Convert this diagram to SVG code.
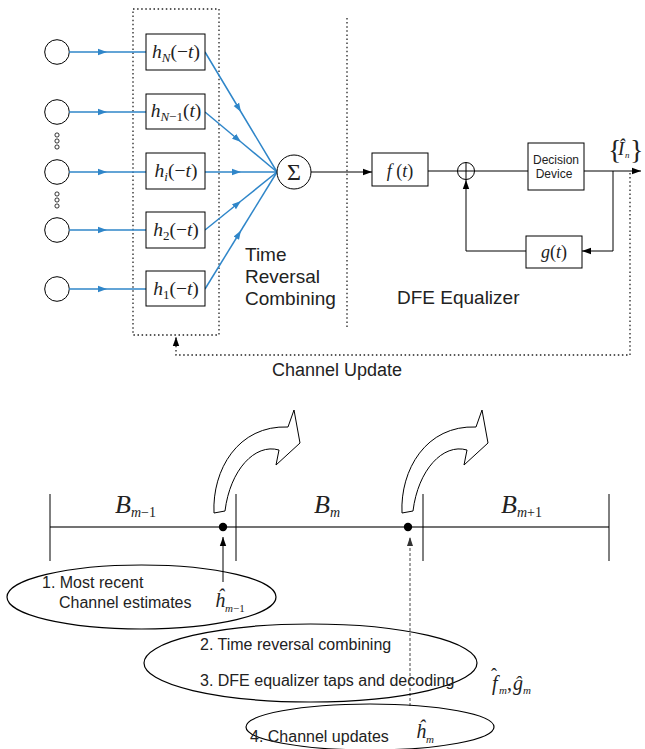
<svg xmlns="http://www.w3.org/2000/svg" width="645" height="749" viewBox="0 0 645 749">
<defs>
<marker id="ab" markerUnits="userSpaceOnUse" markerWidth="10" markerHeight="8" refX="9" refY="4" orient="auto"><path d="M0,0.8 L9,4 L0,7.2 z" fill="#2f86c9"/></marker>
<marker id="ak" markerUnits="userSpaceOnUse" markerWidth="10" markerHeight="8" refX="9" refY="4" orient="auto"><path d="M0,0.8 L9,4 L0,7.2 z" fill="#000"/></marker>
<marker id="ag" markerUnits="userSpaceOnUse" markerWidth="10" markerHeight="8" refX="9" refY="4" orient="auto"><path d="M0,1 L9,4 L0,7 z" fill="#333"/></marker>
</defs>
<style>
.blue{stroke:#2f86c9;stroke-width:1.5;fill:none}
.box{fill:#fff;stroke:#000;stroke-width:1}
.ln{stroke:#000;stroke-width:1;fill:none}
.gl{stroke:#444;stroke-width:1.3;fill:none}
.dot{stroke:#222;stroke-width:1.3;fill:none;stroke-dasharray:1.5 2.6}
.dash{stroke:#444;stroke-width:1;fill:none;stroke-dasharray:3 2}
.src{fill:#fff;stroke:#000;stroke-width:1}
.sans{font-family:"Liberation Sans",Arial,sans-serif;fill:#222}
.m{font-family:"Liberation Serif","Times New Roman",serif;fill:#222}
.i{font-style:italic}
.ell{fill:none;stroke:#000;stroke-width:1.2}
.bend{fill:#fff;stroke:#000;stroke-width:1}
</style>

<rect id="tr-frame" x="133" y="9" width="86" height="326" class="dot"/>
<line id="divider" x1="347" y1="18" x2="347" y2="327" class="dot" stroke="#555"/>

<g id="sources">
<circle cx="57" cy="52" r="12.3" class="src"/>
<circle cx="57" cy="112" r="12.3" class="src"/>
<circle cx="57" cy="172" r="12.3" class="src"/>
<circle cx="57" cy="230" r="12.3" class="src"/>
<circle cx="57" cy="289" r="12.3" class="src"/>
<g fill="none" stroke="#000" stroke-width="0.8">
<circle cx="57" cy="135" r="2.1"/><circle cx="57" cy="141" r="2.1"/><circle cx="57" cy="147" r="2.1"/>
<circle cx="57" cy="194" r="2.1"/><circle cx="57" cy="200" r="2.1"/><circle cx="57" cy="206" r="2.1"/>
</g>
</g>

<g id="connectors">
<polyline points="69,52 107,52 146,52" class="blue" marker-mid="url(#ab)"/>
<polyline points="69,112 107,112 146,112" class="blue" marker-mid="url(#ab)"/>
<polyline points="69,172 107,172 146,172" class="blue" marker-mid="url(#ab)"/>
<polyline points="69,230 107,230 146,230" class="blue" marker-mid="url(#ab)"/>
<polyline points="69,289 107,289 146,289" class="blue" marker-mid="url(#ab)"/>
<polyline points="205,52 241,112 277,172" class="blue" marker-mid="url(#ab)"/>
<polyline points="205,112 241,142 277,172" class="blue" marker-mid="url(#ab)"/>
<polyline points="205,172 241,172 277,172" class="blue" marker-mid="url(#ab)"/>
<polyline points="205,230 241,201 277,172" class="blue" marker-mid="url(#ab)"/>
<polyline points="205,289 241,230.5 277,172" class="blue" marker-mid="url(#ab)"/>
<line x1="311" y1="172" x2="372" y2="172" class="ln" marker-end="url(#ak)"/>
<line x1="428" y1="171" x2="457.5" y2="171" class="ln"/>
<line x1="474.5" y1="171" x2="528" y2="171" class="ln"/>
<line x1="584" y1="171" x2="641" y2="171" class="ln" marker-end="url(#ak)"/>
<polyline points="613,171 613,251 582,251" class="ln" marker-end="url(#ak)"/>
<polyline points="526,251 466,251 466,180" class="ln" marker-end="url(#ak)"/>
<polyline points="630,173 630,355 176,355 176,337" class="dot" marker-end="url(#ak)"/>
</g>

<g id="filters">
<rect x="146" y="34" width="59" height="36" class="box"/>
<text x="176" y="58" text-anchor="middle" class="m" font-size="19.5"><tspan class="i">h</tspan><tspan class="i" font-size="13" dy="4">N</tspan><tspan dy="-4">(−</tspan><tspan class="i">t</tspan>)</text>
<rect x="146" y="94" width="59" height="35" class="box"/>
<text x="176" y="117" text-anchor="middle" class="m" font-size="19.5"><tspan class="i">h</tspan><tspan font-size="13" dy="4"><tspan class="i">N</tspan>−1</tspan><tspan dy="-4">(</tspan><tspan class="i">t</tspan>)</text>
<rect x="146" y="153" width="59" height="36" class="box"/>
<text x="176" y="177" text-anchor="middle" class="m" font-size="19.5"><tspan class="i">h</tspan><tspan class="i" font-size="13" dy="4">i</tspan><tspan dy="-4">(−</tspan><tspan class="i">t</tspan>)</text>
<rect x="146" y="212" width="59" height="36" class="box"/>
<text x="176" y="236" text-anchor="middle" class="m" font-size="19.5"><tspan class="i">h</tspan><tspan font-size="13" dy="4">2</tspan><tspan dy="-4">(−</tspan><tspan class="i">t</tspan>)</text>
<rect x="146" y="271" width="59" height="35" class="box"/>
<text x="176" y="295" text-anchor="middle" class="m" font-size="19.5"><tspan class="i">h</tspan><tspan font-size="13" dy="4">1</tspan><tspan dy="-4">(−</tspan><tspan class="i">t</tspan>)</text>
</g>

<g id="sum">
<circle cx="294" cy="172" r="17" class="src"/>
<text x="294" y="180" text-anchor="middle" class="m" font-size="24">Σ</text>
</g>

<g id="ff-filter">
<rect x="372" y="153" width="56" height="33" class="box" stroke="#333"/>
<text x="400" y="177" text-anchor="middle" class="m" font-size="18"><tspan class="i">f</tspan> (<tspan class="i">t</tspan>)</text>
</g>

<g id="adder">
<circle cx="466" cy="171" r="8.5" class="src"/>
<line x1="466" y1="162.5" x2="466" y2="179.5" class="ln"/>
<line x1="457.5" y1="171" x2="474.5" y2="171" class="ln"/>
</g>

<g id="decision">
<rect x="528" y="143" width="56" height="47" class="box" stroke="#333"/>
<text x="556" y="164" text-anchor="middle" class="sans" font-size="12">Decision</text>
<text x="554" y="178" text-anchor="middle" class="sans" font-size="12">Device</text>
</g>

<g id="fb-filter">
<rect x="526" y="236" width="56" height="32" class="box" stroke="#333"/>
<text x="554" y="258" text-anchor="middle" class="m" font-size="18"><tspan class="i">g</tspan>(<tspan class="i">t</tspan>)</text>
</g>

<g id="output-label">
<text x="608" y="159" class="m" font-size="28">{</text>
<text x="618" y="155" class="m i" font-size="19">Î</text>
<text x="625" y="158" class="m i" font-size="9">n</text>
<text x="630" y="159" class="m" font-size="28">}</text>
</g>

<g id="labels">
<text x="245" y="261" class="sans" font-size="19">Time</text>
<text x="245" y="283" class="sans" font-size="19">Reversal</text>
<text x="245" y="305" class="sans" font-size="19">Combining</text>
<text x="397" y="304" class="sans" font-size="19">DFE Equalizer</text>
<text x="272" y="376" class="sans" font-size="18">Channel Update</text>
</g>

<g id="timeline">
<line x1="50" y1="527" x2="609" y2="527" class="gl"/>
<line x1="50" y1="494" x2="50" y2="561" class="ln" stroke-width="1.3"/>
<line x1="236" y1="494" x2="236" y2="561" class="ln" stroke-width="1.3"/>
<line x1="423" y1="494" x2="423" y2="561" class="ln" stroke-width="1.3"/>
<line x1="609" y1="494" x2="609" y2="561" class="ln" stroke-width="1.3"/>
<circle cx="223" cy="527" r="4.2" fill="#000"/>
<circle cx="408" cy="527" r="4.2" fill="#000"/>
</g>

<g id="block-labels">
<text x="115" y="513" class="m" font-size="26"><tspan class="i">B</tspan><tspan font-size="14" dy="4"><tspan class="i">m</tspan>−1</tspan></text>
<text x="314" y="513" class="m" font-size="26"><tspan class="i">B</tspan><tspan class="i" font-size="14" dy="4">m</tspan></text>
<text x="501" y="513" class="m" font-size="26"><tspan class="i">B</tspan><tspan font-size="14" dy="4"><tspan class="i">m</tspan>+1</tspan></text>
</g>

<g id="bend-arrow-1">
<path d="M214,513 C212,470 238,425 288,427 L294,410 L300,443 L276,465 L279,450 C255,443 230,470 225,511 Z" class="bend"/>
</g>
<g id="bend-arrow-2">
<path d="M214,513 C212,470 238,425 288,427 L294,410 L300,443 L276,465 L279,450 C255,443 230,470 225,511 Z" class="bend" transform="translate(188,0)"/>
</g>

<g id="step-arrows">
<line x1="223" y1="582" x2="223" y2="537" class="ln" marker-end="url(#ak)"/>
<line x1="410" y1="706" x2="410" y2="537" class="dash" marker-end="url(#ag)"/>
</g>

<g id="step1">
<ellipse cx="141.5" cy="597" rx="134.5" ry="32" class="ell"/>
<text x="42" y="588" class="sans" font-size="16">1. Most recent</text>
<text x="59" y="608" class="sans" font-size="16">Channel estimates</text>
<text x="215" y="607" class="m i" font-size="20">ĥ</text>
<text x="225" y="612" class="m" font-size="11"><tspan class="i">m</tspan>−1</text>
</g>

<g id="step23">
<ellipse cx="310.5" cy="663" rx="166.5" ry="39" class="ell"/>
<text x="200" y="650" class="sans" font-size="16">2. Time reversal combining</text>
<text x="200" y="686" class="sans" font-size="16">3. DFE equalizer taps and decoding</text>
</g>

<g id="fg-label">
<text x="492" y="690" class="m i" font-size="20">f</text>
<text x="491" y="681" class="m" font-size="18">ˆ</text>
<text x="499" y="694" class="m i" font-size="11">m</text>
<text x="507" y="690" class="m" font-size="20">,</text>
<text x="513" y="690" class="m i" font-size="20">ĝ</text>
<text x="523" y="694" class="m i" font-size="11">m</text>
</g>

<g id="step4">
<ellipse cx="370" cy="727" rx="124" ry="23" class="ell"/>
<text x="250" y="742" class="sans" font-size="16">4. Channel updates</text>
<text x="416" y="738" class="m i" font-size="20">ĥ</text>
<text x="426" y="743" class="m i" font-size="11">m</text>
</g>
</svg>
